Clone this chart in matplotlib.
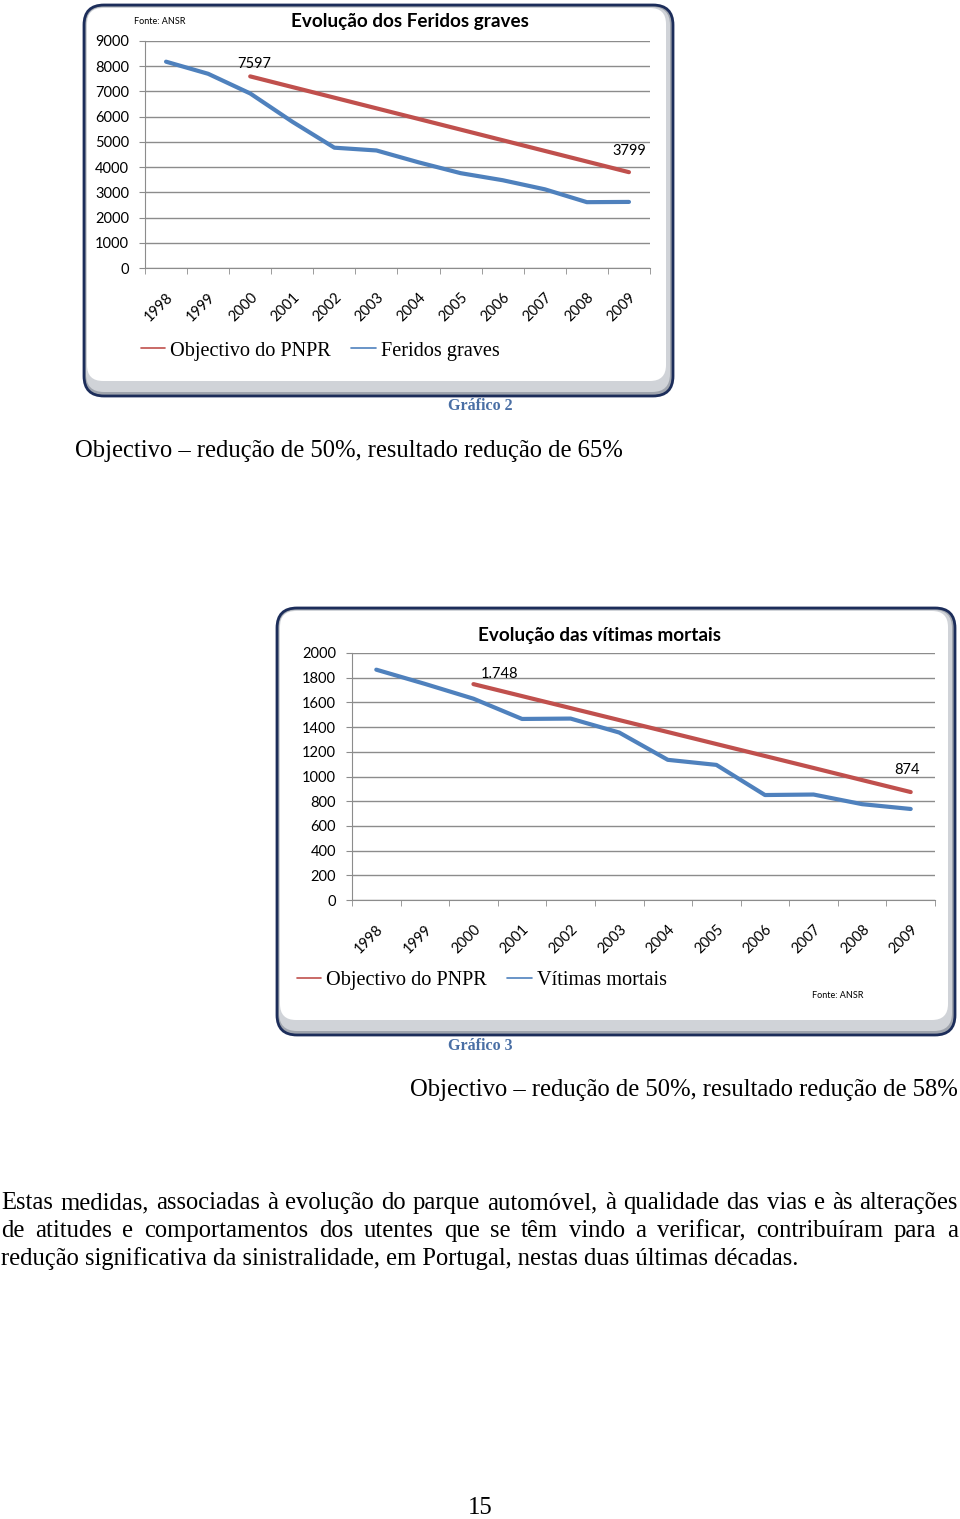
import numpy as np
import matplotlib
matplotlib.use('Agg')
import matplotlib.pyplot as plt
from matplotlib.patches import FancyBboxPatch

years = ['1998', '1999', '2000', '2001', '2002', '2003',
         '2004', '2005', '2006', '2007', '2008', '2009']

# Gráfico 2 - feridos graves
feridos = [8180, 7700, 6920, 5800, 4770, 4660, 4190, 3760, 3480, 3120, 2610, 2620]
obj_feridos = [np.nan, np.nan, 7597, 7175, 6753, 6331, 5909, 5487, 5065, 4643, 4221, 3799]

# Gráfico 3 - vítimas mortais
mortos = [1865, 1750, 1630, 1466, 1469, 1356, 1135, 1094, 850, 854, 776, 737]
obj_mortos = [np.nan, np.nan, 1748, 1651, 1554, 1457, 1360, 1263, 1166, 1069, 971, 874]

paragraph = [
    'Estas medidas, associadas à evolução do parque automóvel, à qualidade das vias e às alterações',
    'de atitudes e comportamentos dos utentes que se têm vindo a verificar, contribuíram para a',
    'redução significativa da sinistralidade, em Portugal, nestas duas últimas décadas.',
]

RED = '#c0504d'
BLUE = '#4f81bd'
GRID = '#8c8c8c'
SANS = 'Lato'
SERIF = 'Liberation Serif'
BODY = 17.7

W, H = 960, 1519
fig = plt.figure(figsize=(W / 100, H / 100), dpi=100)
bg = fig.add_axes([0, 0, 1, 1])
bg.set_xlim(0, W)
bg.set_ylim(H, 0)
bg.axis('off')


def px_rect(l, t, r, b):
    return [l / W, 1 - b / H, (r - l) / W, (b - t) / H]


def draw_box(x0, y0, x1, y1):
    w, h = x1 - x0, y1 - y0
    bg.add_patch(FancyBboxPatch((x0, y0), w, h, boxstyle='round,pad=0,rounding_size=20',
                                fc='#9fa4ad', ec='#1c2d5a', lw=2, zorder=1))
    bg.add_patch(FancyBboxPatch((x0 + 2, y0 + 2), w - 5, h - 6, boxstyle='round,pad=0,rounding_size=18',
                                fc='#d0d3d8', ec='none', zorder=1))
    bg.add_patch(FancyBboxPatch((x0 + 3, y0 + 3), w - 10, h - 18, boxstyle='round,pad=0,rounding_size=16',
                                fc='white', ec='none', zorder=1))


def draw_chart(rect, ymax, ystep, blue, red, notes):
    ax = fig.add_axes(px_rect(*rect))
    ax.set_facecolor('none')
    x = np.arange(len(years))
    l_red, = ax.plot(x, red, color=RED, lw=3, solid_capstyle='round', zorder=3)
    l_blue, = ax.plot(x, blue, color=BLUE, lw=3, solid_capstyle='round', zorder=4)
    ax.set_xlim(-0.5, len(years) - 0.5)
    ax.set_ylim(0, ymax)
    ax.set_yticks(np.arange(0, ymax + 1, ystep))
    ax.set_xticks(x)
    ax.set_xticklabels(years, rotation=45, ha='right', va='top', rotation_mode='anchor')
    ax.set_xticks(np.arange(-0.5, len(years), 1), minor=True)
    ax.tick_params(axis='x', which='major', length=0, pad=16, labelsize=10.5)
    ax.tick_params(axis='x', which='minor', length=4, color=GRID)
    ax.tick_params(axis='y', length=4, color=GRID, pad=7.5, labelsize=10.5)
    for lab in ax.get_xticklabels() + ax.get_yticklabels():
        lab.set_fontfamily(SANS)
    ax.grid(axis='y', color=GRID, lw=1)
    ax.set_axisbelow(True)
    for s in ['top', 'right']:
        ax.spines[s].set_visible(False)
    for s in ['left', 'bottom']:
        ax.spines[s].set_color(GRID)
    for idx, val, dx, dy, txt in notes:
        ax.annotate(txt, xy=(idx, val), xytext=(dx, dy), textcoords='offset points',
                    ha='center', va='center', fontsize=10.5, family=SANS)
    return ax, [l_red, l_blue]


def add_legend(ax, handles, labels, x, y):
    leg = ax.legend(handles, labels, loc='center left',
                    bbox_to_anchor=(x, y), bbox_transform=bg.transData, ncol=2,
                    frameon=False, prop={'family': SERIF, 'size': 14.6}, handlelength=1.2,
                    handletextpad=0.25, columnspacing=1.0, borderpad=0, borderaxespad=0)
    for ln in leg.get_lines():
        ln.set_linewidth(1.2)


# chart 1
draw_box(84, 5, 673, 396)
ax1, h1 = draw_chart((145, 41, 650, 268), 9000, 1000, feridos, obj_feridos,
                     [(2, 7597, 3, 9, '7597'), (11, 3799, 0, 15, '3799')])
bg.text(410, 22, 'Evolução dos Feridos graves', ha='center', va='center',
        fontsize=13.6, fontweight='bold', family=SANS)
bg.text(134, 22, 'Fonte: ANSR', ha='left', va='center', fontsize=6.5, family=SANS)
add_legend(ax1, h1, ['Objectivo do PNPR', 'Feridos graves'], 141, 351)

bg.text(480, 406, 'Gráfico 2', ha='center', va='center', fontsize=11.5,
        fontweight='bold', family=SERIF, color='#4a6fa5')
bg.text(75, 451, 'Objectivo – redução de 50%, resultado redução de 65%', ha='left',
        va='center', fontsize=BODY, family=SERIF)

# chart 2
draw_box(277, 608, 955, 1035)
ax2, h2 = draw_chart((352, 653, 935, 900), 2000, 200, mortos, obj_mortos,
                     [(2, 1748, 19, 7, '1.748'), (11, 874, -3, 16, '874')])
bg.text(600, 635, 'Evolução das vítimas mortais', ha='center', va='center',
        fontsize=13.6, fontweight='bold', family=SANS)
bg.text(812, 995, 'Fonte: ANSR', ha='left', va='center', fontsize=6.5, family=SANS)
add_legend(ax2, h2, ['Objectivo do PNPR', 'Vítimas mortais'], 297, 980)

bg.text(480, 1046, 'Gráfico 3', ha='center', va='center', fontsize=11.5,
        fontweight='bold', family=SERIF, color='#4a6fa5')
bg.text(958, 1090, 'Objectivo – redução de 50%, resultado redução de 58%', ha='right',
        va='center', fontsize=BODY, family=SERIF)

# justified paragraph
renderer = fig.canvas.get_renderer()
left, right = 1, 958
for i, line in enumerate(paragraph):
    y = 1203 + i * 28
    if i == len(paragraph) - 1:
        bg.text(left, y, line, ha='left', va='center', fontsize=BODY, family=SERIF)
        continue
    words = line.split(' ')
    texts = [bg.text(0, y, w, ha='left', va='center', fontsize=BODY, family=SERIF) for w in words]
    widths = [t.get_window_extent(renderer).width for t in texts]
    gap = (right - left - sum(widths)) / (len(words) - 1)
    xpos = left
    for t, wd in zip(texts, widths):
        t.set_x(xpos)
        xpos += wd + gap

bg.text(480, 1508, '15', ha='center', va='center', fontsize=BODY, family=SERIF)

fig.savefig('out.png', dpi=100)
